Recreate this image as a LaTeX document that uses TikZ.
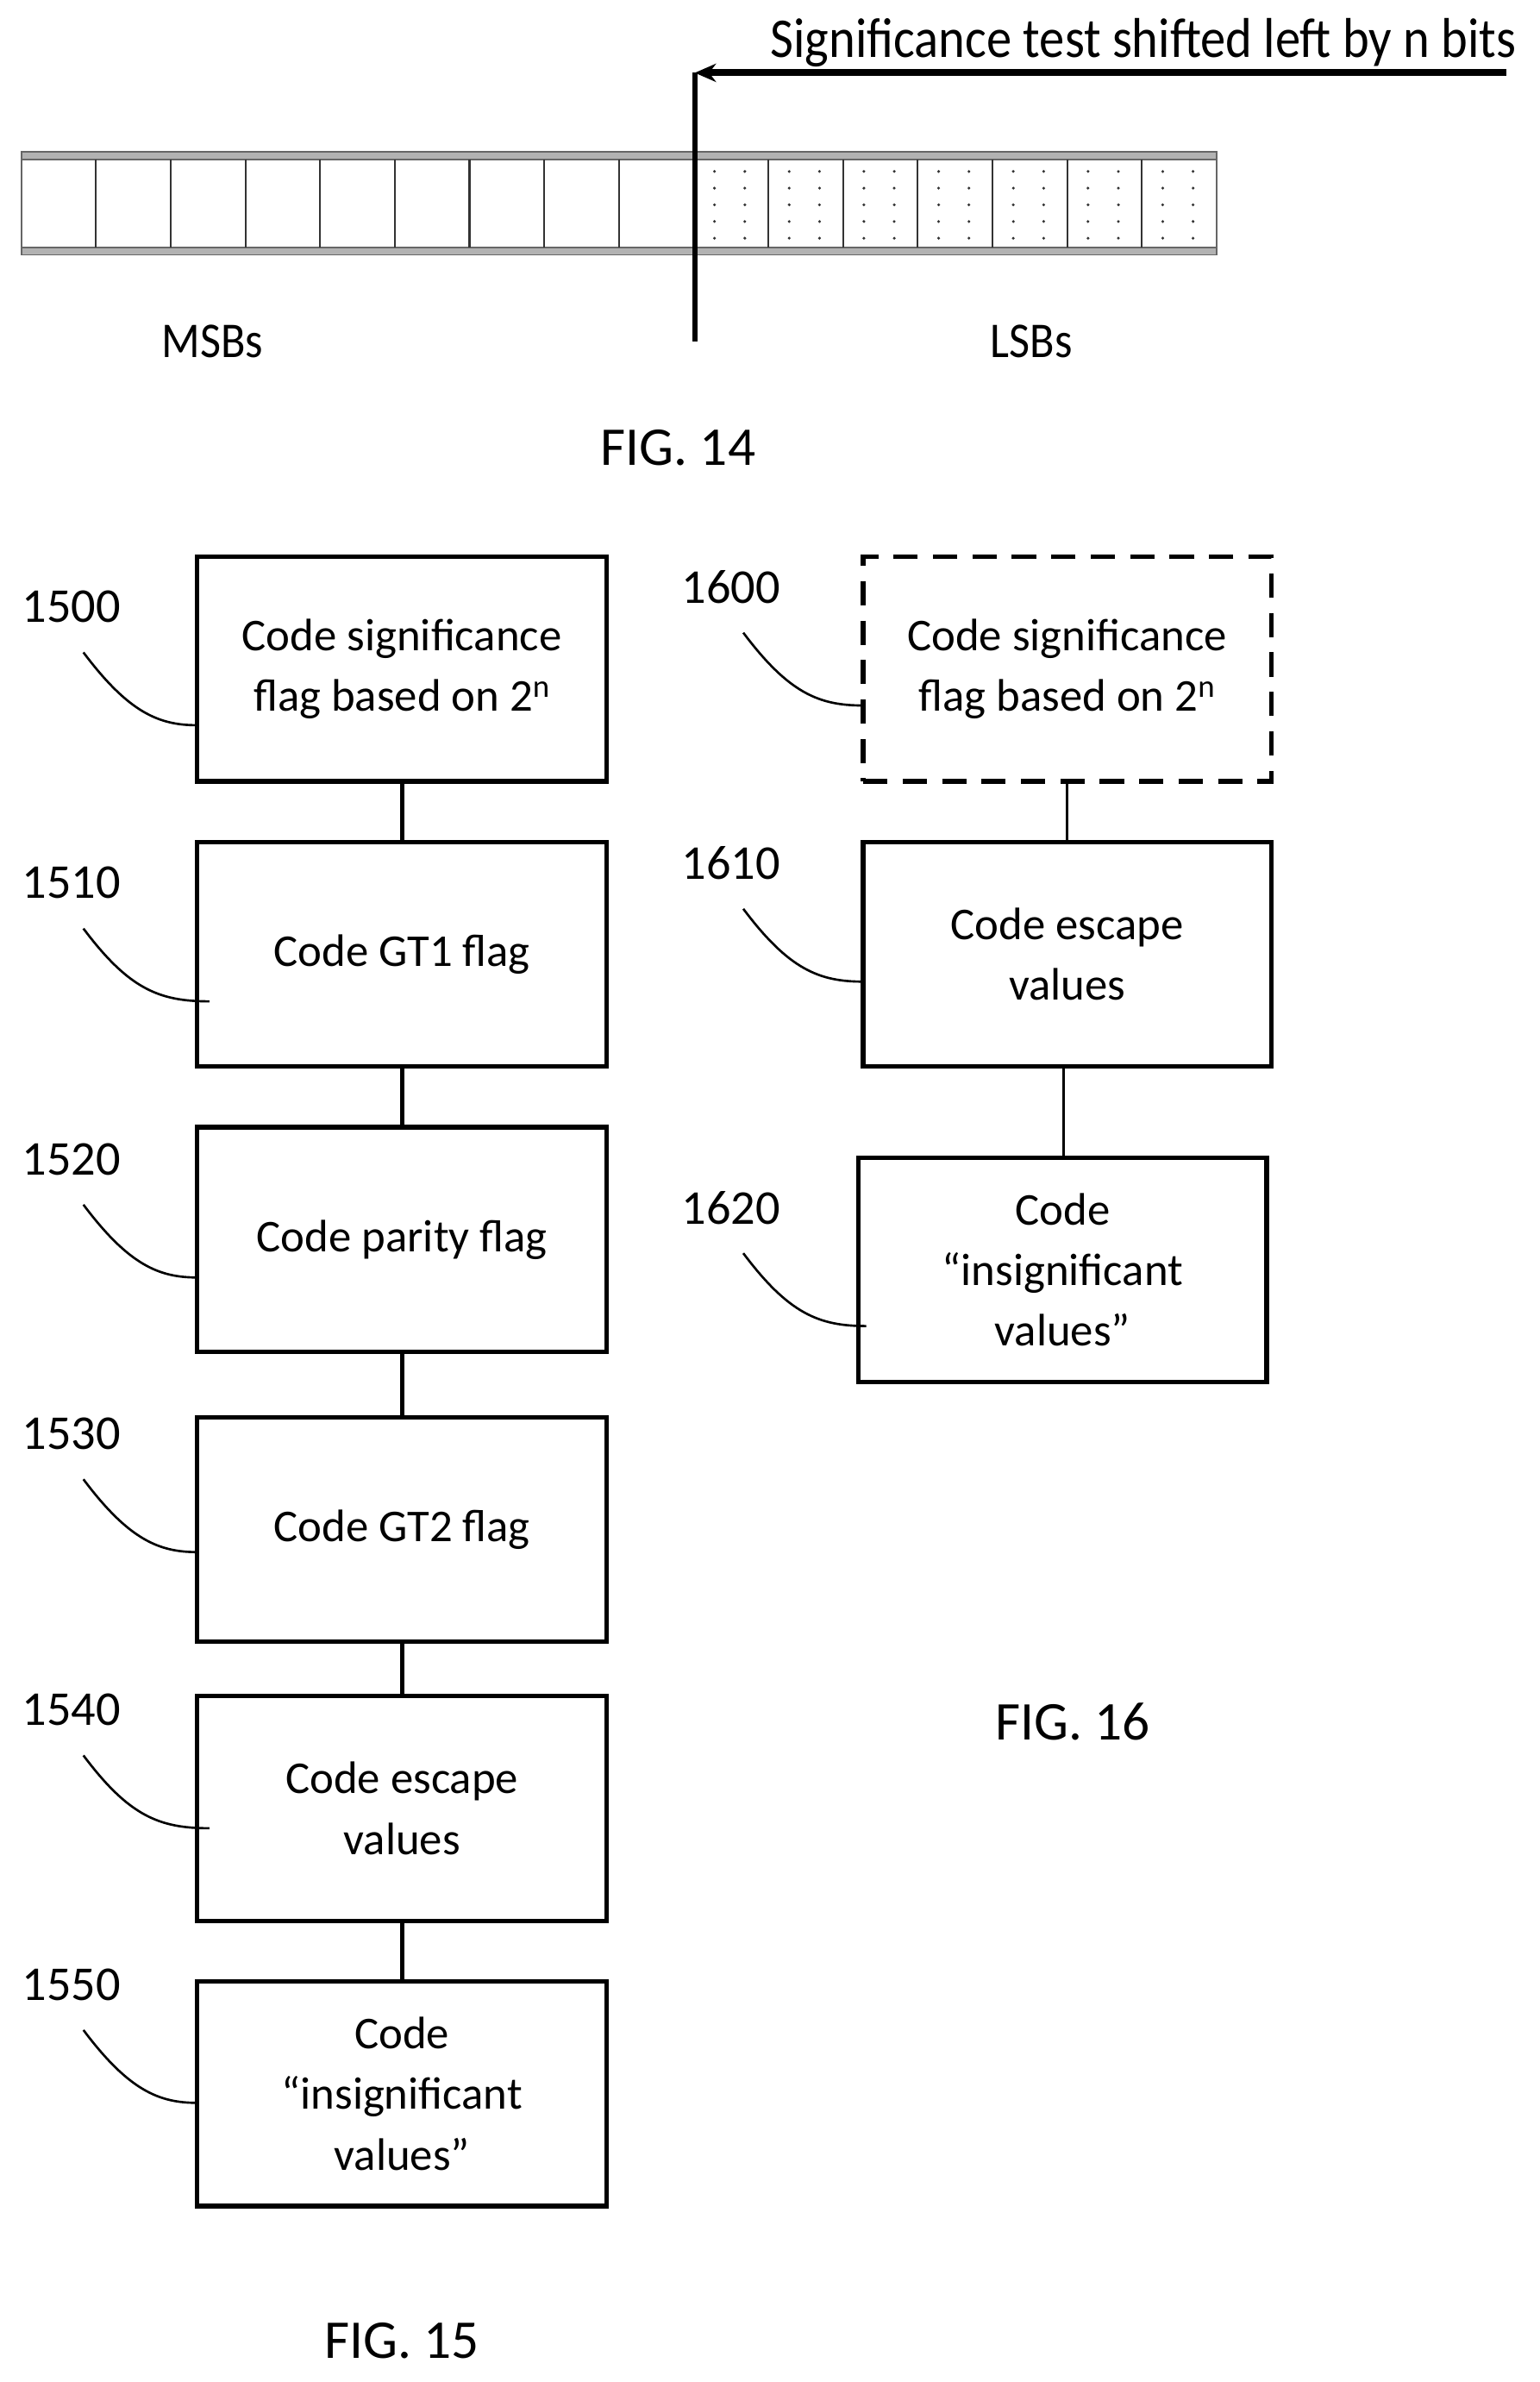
\documentclass[tikz,border=0pt]{standalone}
\usepackage{fontspec}
\setmainfont{Carlito}
\usetikzlibrary{arrows.meta}
\begin{document}
\begin{tikzpicture}[x=1pt,y=-1pt,
 box/.style={draw,line width=3pt,minimum width=270pt,minimum height=148pt,align=center,font=\fontsize{30}{40}\selectfont,inner sep=0pt},
 lab/.style={font=\fontsize{32}{32}\selectfont},
 lead/.style={line width=1.5pt},
 fig/.style={font=\fontsize{36}{36}\selectfont},
 link/.style={line width=3pt}]
\useasboundingbox (0,0) rectangle (1015,1570);
% FIG 14
\fill[gray!60] (14,100) rectangle (802,105);
\fill[gray!60] (14,163) rectangle (802,168);
\draw[gray!80!black,line width=1pt] (14,100) rectangle (802,168);
\draw[gray!80!black,line width=1pt] (14,105) -- (802,105) (14,163) -- (802,163);
\foreach \i in {1,...,15}{\draw[black!80,line width=1.2pt] ({14+\i*49.25},105) -- ({14+\i*49.25},163);}
\foreach \c in {0,...,6}{\foreach \r in {0,...,4}{
 \fill[black!80] ({458+\c*49.25+13},{113+\r*11}) circle (1);
 \fill[black!80] ({458+\c*49.25+33},{113+\r*11}) circle (1);}}
\coordinate (vt) at (458,48);
\coordinate (vb) at (458,225);
\coordinate (as) at (993,48);
\draw[line width=3.5pt] (vt) -- (vb);
\draw[line width=4.5pt,-{Stealth[length=14pt,width=12pt]}] (as) -- (vt);
\node[anchor=east,font=\fontsize{37}{37}\selectfont] (sig) at (1003,28) {\addfontfeature{FakeStretch=0.9}Significance test shifted left by n bits};
\node[font=\fontsize{33}{33}\selectfont] (msb) at (140,225) {\addfontfeature{FakeStretch=0.9}MSBs};
\node[font=\fontsize{33}{33}\selectfont] (lsb) at (680,225) {\addfontfeature{FakeStretch=0.9}LSBs};
\node[fig] (f14) at (447,295) {FIG. 14};
% FIG 15
\node[box] (b0) at (265,441) {Code significance\\flag based on 2\textsuperscript{n}};
\node[box] (b1) at (265,629) {Code GT1 flag};
\node[box] (b2) at (265,817) {Code parity flag};
\node[box] (b3) at (265,1008) {Code GT2 flag};
\node[box] (b4) at (265,1192) {Code escape\\values};
\node[box] (b5) at (265,1380) {Code\\“insignificant\\values”};
\foreach \a/\b in {b0/b1,b1/b2,b2/b3,b3/b4,b4/b5}{\draw[link] (\a.south) -- (\b.north);}
\foreach \n/\t/\y/\e in {l0/1500/400/0,l1/1510/582/1,l2/1520/764/0,l3/1530/945/0,l4/1540/1127/1,l5/1550/1308/0}{
 \node[lab] (\n) at (47,\y) {\t};
 \coordinate (\n e) at ({130+\e*8},\y+78);
 \draw[lead] (55,\y+30) .. controls (85,\y+70) and (105,\y+78) .. (\n e);}
\node[fig] (f15) at (265,1543) {FIG. 15};
% FIG 16
\node[box,dashed,dash pattern=on 16pt off 10pt,minimum width=269pt] (c0) at (703.5,441) {Code significance\\flag based on 2\textsuperscript{n}};
\node[box,minimum width=269pt] (c1) at (703.5,629) {Code escape\\values};
\node[box,minimum width=269pt] (c2) at (700.5,837) {Code\\“insignificant\\values”};
\draw[line width=1.5pt] (c0.south) -- (c1.north);
\draw[line width=1.5pt] (701,704) -- (701,763);
\foreach \n/\t/\y/\xe in {m0/1600/387/569,m1/1610/569/569,m2/1620/796/571}{
 \node[lab] (\n) at (482,\y) {\t};
 \coordinate (\n e) at (\xe,\y+78);
 \draw[lead] (490,\y+30) .. controls (520,\y+70) and (540,\y+78) .. (\n e);}
\node[fig] (f16) at (707,1135) {FIG. 16};
\end{tikzpicture}
\end{document}
